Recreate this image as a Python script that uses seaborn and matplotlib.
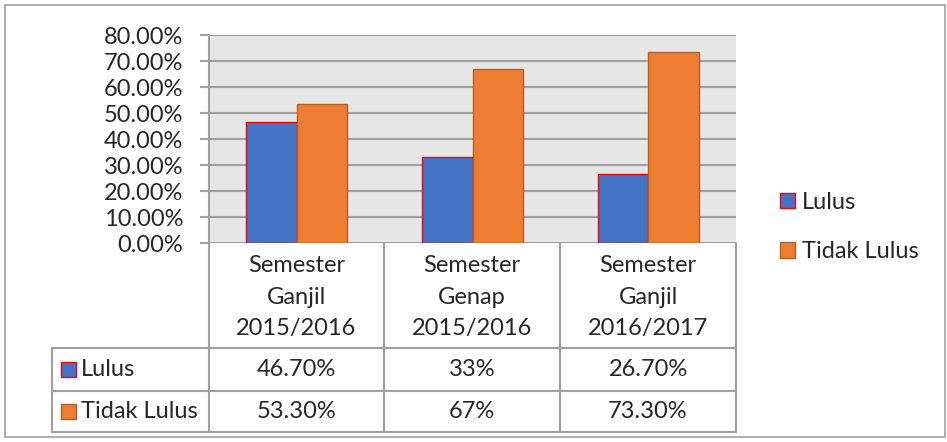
import pandas as pd
import matplotlib
matplotlib.use("Agg")
import matplotlib.pyplot as plt
from matplotlib.patches import Patch, Rectangle
from matplotlib.lines import Line2D
from matplotlib.ticker import PercentFormatter, MultipleLocator
import seaborn as sns

# data
semester = ["Semester\nGanjil\n2015/2016", "Semester\nGenap\n2015/2016", "Semester\nGanjil\n2016/2017"]
status = ["Lulus", "Tidak Lulus"]
lulus = [0.467, 0.33, 0.267]
tidak_lulus = [0.533, 0.67, 0.733]
label_lulus = ["46.70%", "33%", "26.70%"]
label_tidak = ["53.30%", "67%", "73.30%"]

warna = ["#4472C4", "#ED7D31"]
tepi = ["#FF0000", "#B0602A"]
abu = "#A0A0A0"

df = pd.DataFrame({
    "Semester": semester * 2,
    "Status": [status[0]] * 3 + [status[1]] * 3,
    "Nilai": lulus + tidak_lulus,
})

sns.set_style("white")
plt.rcParams["font.family"] = ["Lato", "DejaVu Sans"]
FS = 17

W, H = 947, 442
fig = plt.figure(figsize=(W / 100, H / 100), dpi=100)


def fx(px):
    return px / W


def fy(py):
    return 1 - py / H


# kotak luar
fig.add_artist(Rectangle((fx(5), fy(437)), fx(940), (437 - 5) / H, transform=fig.transFigure,
                         fill=False, edgecolor=abu, linewidth=1.2))

ax = fig.add_axes([fx(209), fy(243), (736 - 209) / W, (243 - 35) / H])
sns.barplot(data=df, x="Semester", y="Nilai", hue="Status", palette=warna, width=0.575,
            saturation=1, legend=False, ax=ax)
for cont, ec in zip(ax.containers, tepi):
    for bar in cont:
        bar.set_edgecolor(ec)
        bar.set_linewidth(1.0)

ax.set_facecolor("#E6E6E6")
ax.set_ylim(0, 0.8)
ax.yaxis.set_major_locator(MultipleLocator(0.1))
ax.yaxis.set_major_formatter(PercentFormatter(xmax=1, decimals=2))
ax.yaxis.grid(True, color=abu, linewidth=1.5)
ax.set_axisbelow(True)
ax.set_xlabel("")
ax.set_ylabel("")
ax.set_xticks([])
for s in ["top", "right", "bottom"]:
    ax.spines[s].set_visible(False)
ax.spines["left"].set_color(abu)
ax.spines["left"].set_linewidth(1.5)
ax.tick_params(axis="y", left=True, length=6.5, width=1.5, color=abu, pad=12, labelsize=FS)

# tabel data di bawah grafik
kolom = [209, 384, 560, 736]
garis = [
    ((209, 209), (243, 432)), ((384, 384), (243, 432)), ((560, 560), (243, 432)),
    ((736, 736), (243, 432)), ((52, 736), (348, 348)), ((52, 736), (391, 391)),
    ((52, 736), (432, 432)), ((52, 52), (348, 432)),
]
for (x0, x1), (y0, y1) in garis:
    fig.add_artist(Line2D([fx(x0), fx(x1)], [fy(y0), fy(y1)], transform=fig.transFigure,
                          color=abu, linewidth=1.5))

for i, teks in enumerate(semester):
    cx = (kolom[i] + kolom[i + 1]) / 2
    for j, baris in enumerate(teks.split("\n")):
        fig.text(fx(cx), fy(266 + j * 31), baris, ha="center", va="center", fontsize=FS)
    fig.text(fx(cx), fy(370), label_lulus[i], ha="center", va="center", fontsize=FS)
    fig.text(fx(cx), fy(412), label_tidak[i], ha="center", va="center", fontsize=FS)

for k, (nama, yy) in enumerate(zip(status, [370, 412])):
    fig.add_artist(Rectangle((fx(61), fy(yy + 7)), 15 / W, 15 / H, transform=fig.transFigure,
                             facecolor=warna[k], edgecolor=tepi[k], linewidth=1.0))
    fig.text(fx(81), fy(yy), nama, ha="left", va="center", fontsize=FS)

# legenda kanan
handles = [Patch(facecolor=warna[k], edgecolor=tepi[k], linewidth=1.0) for k in range(2)]
fig.legend(handles, status, loc="center left", bbox_to_anchor=(fx(771), fy(227)), frameon=False,
           fontsize=FS, handlelength=0.62, handleheight=0.62, handletextpad=0.3, labelspacing=1.2,
           borderaxespad=0)

fig.savefig("out.png", dpi=100)
